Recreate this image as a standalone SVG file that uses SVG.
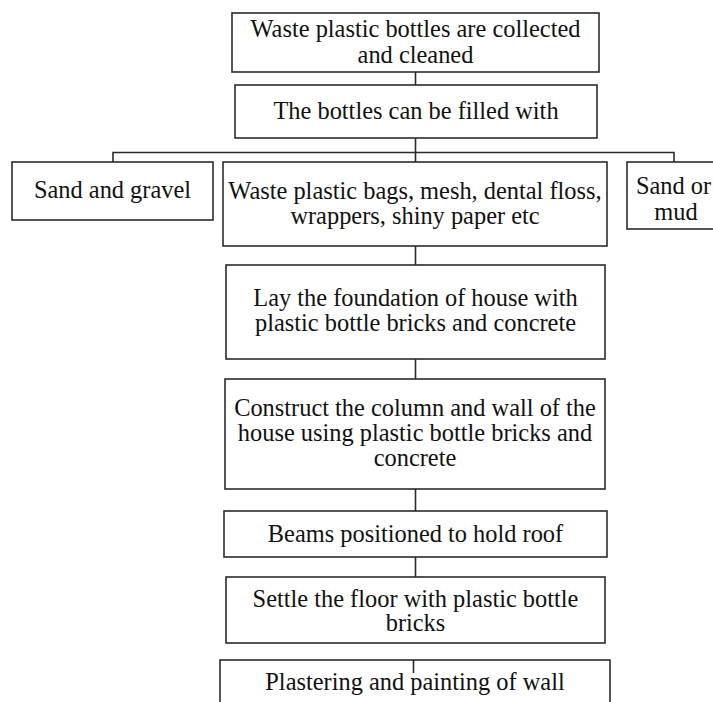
<svg xmlns="http://www.w3.org/2000/svg" width="713" height="702" viewBox="0 0 713 702">
<style>
.box{fill:#fff;stroke:#2b2b2b;stroke-width:1.6}
.t{font-family:"Liberation Serif","Times New Roman",serif;font-size:24.4px;fill:#111;text-anchor:middle}
.c{stroke:#2b2b2b;stroke-width:1.6;fill:none}
</style>
<rect width="713" height="702" fill="#fff"/>
<g id="connectors">
<line class="c" x1="415.5" y1="72" x2="415.5" y2="85"/>
<line class="c" x1="415.5" y1="138" x2="415.5" y2="162"/>
<polyline class="c" points="113,162 113,152.5 674,152.5 674,162"/>
<line class="c" x1="415.5" y1="246" x2="415.5" y2="265"/>
<line class="c" x1="415.5" y1="359" x2="415.5" y2="379"/>
<line class="c" x1="415.5" y1="489" x2="415.5" y2="511"/>
<line class="c" x1="415.5" y1="557" x2="415.5" y2="577"/>
</g>
<g id="n1"><rect class="box" x="232" y="13" width="367" height="59"/>
<text class="t" x="415.5" y="36.5">Waste plastic bottles are collected</text>
<text class="t" x="415.5" y="62.5">and cleaned</text></g>
<g id="n2"><rect class="box" x="235" y="85" width="362" height="53"/>
<text class="t" x="416" y="118.5">The bottles can be filled with</text></g>
<g id="n3"><rect class="box" x="12" y="162" width="201" height="58"/>
<text class="t" x="112.5" y="198">Sand and gravel</text></g>
<g id="n4"><rect class="box" x="223" y="162" width="384" height="84"/>
<text class="t" x="415" y="198.5">Waste plastic bags, mesh, dental floss,</text>
<text class="t" x="415" y="223.5">wrappers, shiny paper etc</text></g>
<g id="n5"><rect class="box" x="627" y="162" width="100" height="67"/>
<text class="t" x="673.5" y="194">Sand or</text>
<text class="t" x="676" y="220">mud</text></g>
<g id="n6"><rect class="box" x="226" y="265" width="379" height="94"/>
<text class="t" x="415.5" y="305.5">Lay the foundation of house with</text>
<text class="t" x="415.5" y="331">plastic bottle bricks and concrete</text></g>
<g id="n7"><rect class="box" x="225" y="379" width="380" height="110"/>
<text class="t" x="415" y="415.5">Construct the column and wall of the</text>
<text class="t" x="415" y="440.5">house using plastic bottle bricks and</text>
<text class="t" x="415" y="465.5">concrete</text></g>
<g id="n8"><rect class="box" x="224" y="511" width="383" height="46"/>
<text class="t" x="415.5" y="541.5">Beams positioned to hold roof</text></g>
<g id="n9"><rect class="box" x="226" y="577" width="379" height="66"/>
<text class="t" x="415.5" y="606.5">Settle the floor with plastic bottle</text>
<text class="t" x="415.5" y="631">bricks</text></g>
<g id="n10"><rect class="box" x="220" y="660" width="390" height="60"/>
<line class="c" x1="413.5" y1="660" x2="413.5" y2="673"/>
<text class="t" x="415" y="690">Plastering and painting of wall</text></g>
</svg>
